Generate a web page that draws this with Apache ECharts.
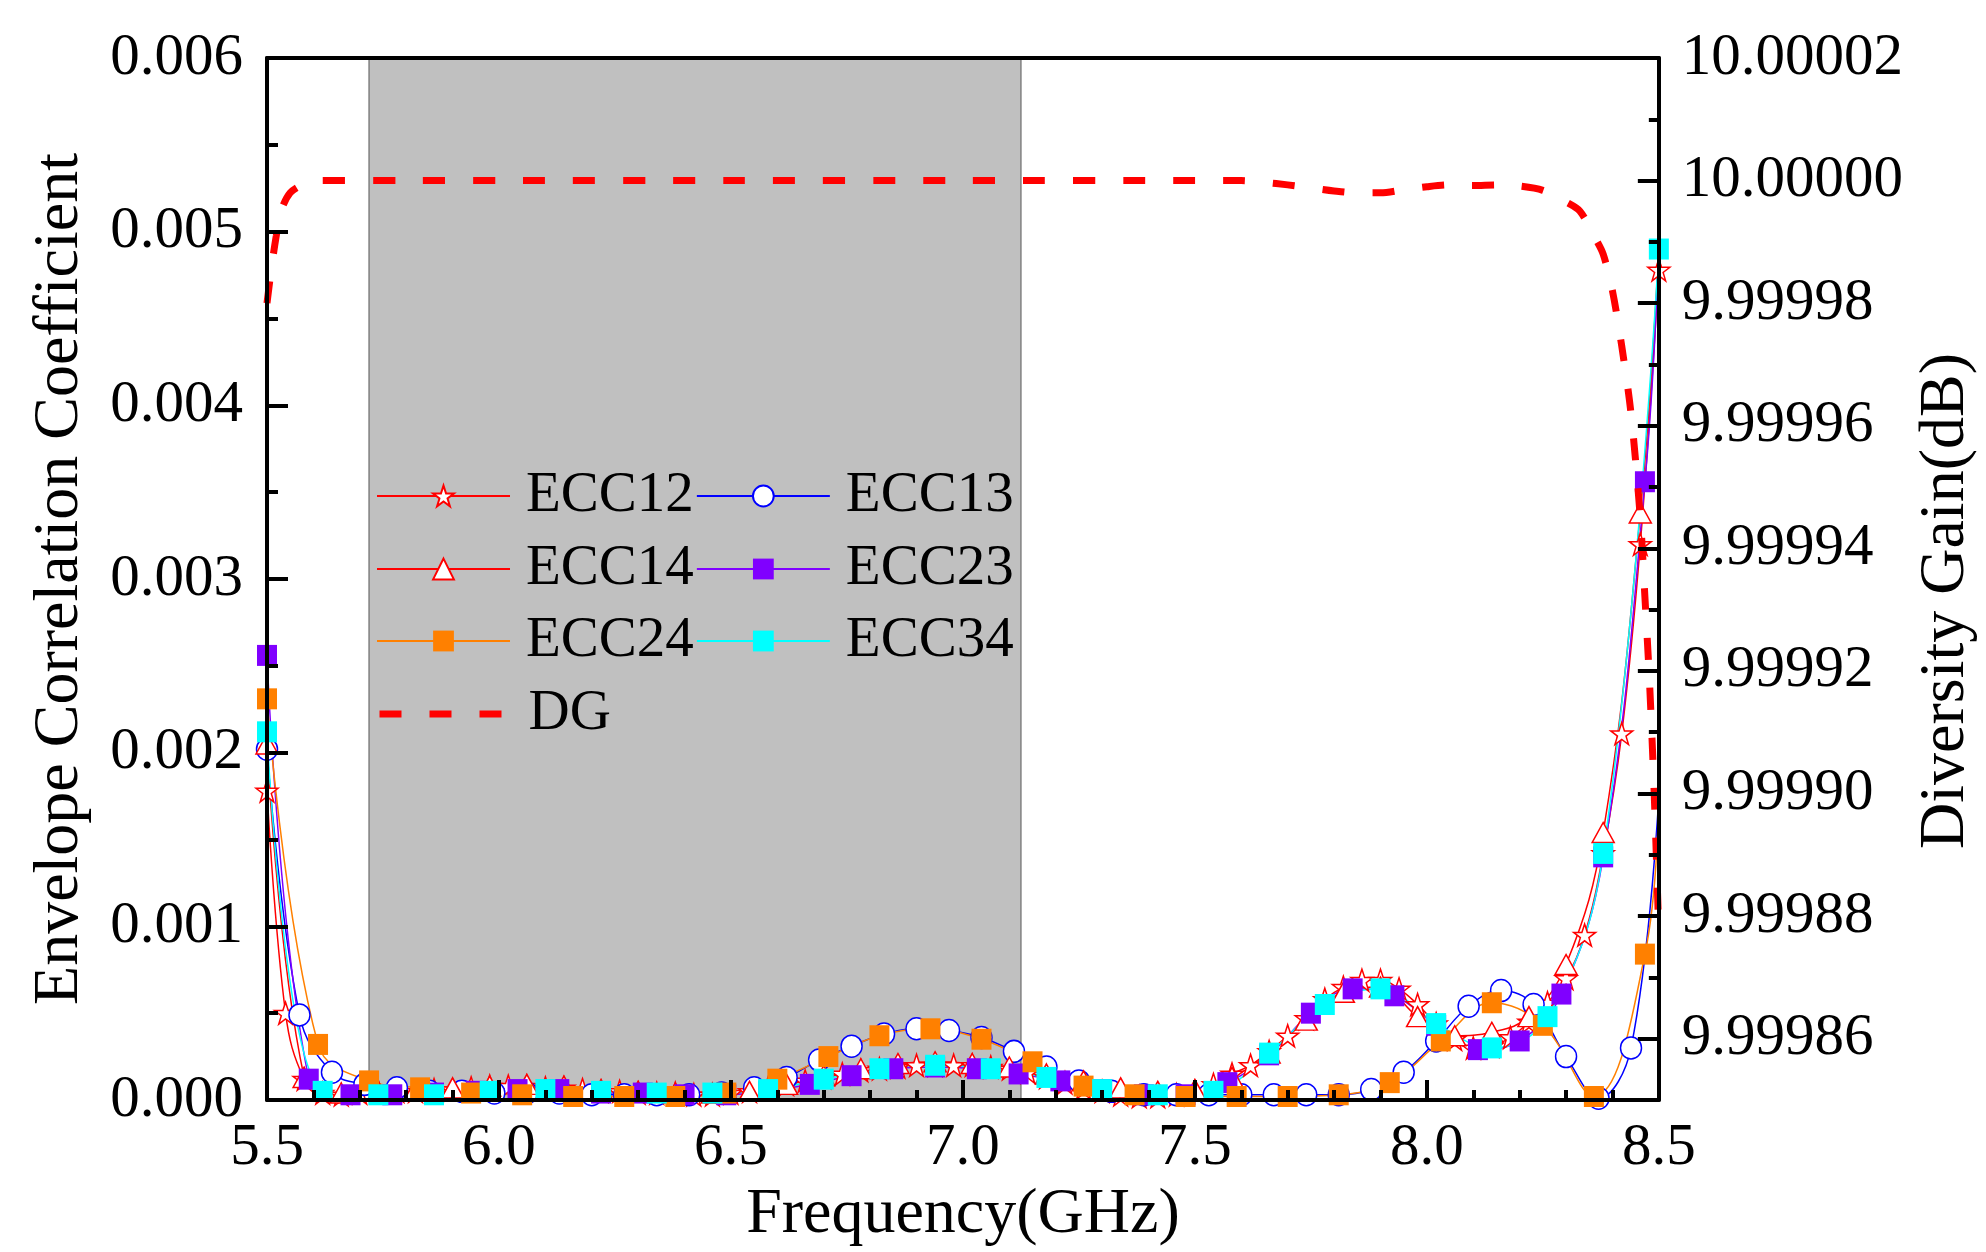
<!DOCTYPE html>
<html><head><meta charset="utf-8">
<script src="https://cdn.jsdelivr.net/npm/echarts@6/dist/echarts.min.js"></script>
<style>html,body{margin:0;padding:0;background:#fff}#c{width:1986px;height:1252px}</style>
</head><body><div id="c"></div>
<script>
const freq12 = [5.50,5.54,5.58,5.62,5.66,5.70,5.74,5.78,5.82,5.86,5.90,5.94,5.98,6.02,6.06,6.10,6.14,6.18,6.22,6.26,6.30,6.34,6.38,6.42,6.46,6.50,6.54,6.58,6.62,6.66,6.70,6.74,6.78,6.82,6.86,6.90,6.94,6.98,7.02,7.06,7.10,7.14,7.18,7.22,7.26,7.30,7.34,7.38,7.42,7.46,7.50,7.54,7.58,7.62,7.66,7.70,7.74,7.78,7.82,7.86,7.90,7.94,7.98,8.02,8.06,8.10,8.14,8.18,8.22,8.26,8.30,8.34,8.38,8.42,8.46,8.50];
const ecc12 = [0.00178,0.00050,0.00012,0.00004,0.00003,0.00004,0.00005,0.00005,0.00005,0.00006,0.00006,0.00007,0.00008,0.00008,0.00008,0.00007,0.00007,0.00006,0.00005,0.00005,0.00004,0.00004,0.00004,0.00003,0.00003,0.00004,0.00005,0.00007,0.00009,0.00011,0.00013,0.00015,0.00017,0.00018,0.00019,0.00020,0.00020,0.00020,0.00020,0.00019,0.00018,0.00016,0.00013,0.00010,0.00007,0.00005,0.00003,0.00002,0.00002,0.00003,0.00005,0.00009,0.00015,0.00020,0.00028,0.00037,0.00047,0.00058,0.00065,0.00069,0.00069,0.00064,0.00055,0.00044,0.00035,0.00030,0.00031,0.00036,0.00045,0.00056,0.00070,0.00095,0.00142,0.00211,0.00320,0.00478];

const freq13 = [5.50,5.57,5.64,5.71,5.78,5.85,5.92,5.99,6.06,6.13,6.20,6.27,6.34,6.41,6.48,6.55,6.62,6.69,6.76,6.83,6.90,6.97,7.04,7.11,7.18,7.25,7.32,7.39,7.46,7.53,7.60,7.67,7.74,7.81,7.88,7.95,8.02,8.09,8.16,8.23,8.30,8.37,8.44];
const ecc13 = [0.00202,0.00049,0.00016,0.00009,0.00007,0.00005,0.00005,0.00004,0.00004,0.00004,0.00003,0.00003,0.00003,0.00003,0.00004,0.00007,0.00013,0.00023,0.00031,0.00038,0.00041,0.00040,0.00036,0.00028,0.00019,0.00011,0.00005,0.00003,0.00003,0.00003,0.00003,0.00003,0.00003,0.00003,0.00006,0.00016,0.00034,0.00054,0.00063,0.00055,0.00025,0.00001,0.00030];
const end13 = [8.50, 0.00175];

const freq14 = [5.50,5.58,5.66,5.74,5.82,5.90,5.98,6.06,6.14,6.22,6.30,6.38,6.46,6.54,6.62,6.70,6.78,6.86,6.94,7.02,7.10,7.18,7.26,7.34,7.42,7.50,7.58,7.66,7.74,7.82,7.90,7.98,8.06,8.14,8.22,8.30,8.38,8.46];
const ecc14 = [0.00205,0.00013,0.00004,0.00005,0.00006,0.00007,0.00008,0.00009,0.00008,0.00006,0.00005,0.00004,0.00004,0.00005,0.00009,0.00014,0.00018,0.00021,0.00022,0.00021,0.00019,0.00015,0.00011,0.00007,0.00005,0.00006,0.00013,0.00027,0.00046,0.00062,0.00065,0.00048,0.00037,0.00039,0.00048,0.00078,0.00154,0.00338];
const end14 = [8.50, 0.00490];

const freq23 = [5.50,5.59,5.68,5.77,5.86,5.95,6.04,6.13,6.22,6.31,6.40,6.49,6.58,6.67,6.76,6.85,6.94,7.03,7.12,7.21,7.30,7.39,7.48,7.57,7.66,7.75,7.84,7.93,8.02,8.11,8.20,8.29,8.38,8.47];
const ecc23 = [0.00256,0.00012,0.00003,0.00003,0.00004,0.00005,0.00006,0.00006,0.00004,0.00004,0.00003,0.00003,0.00005,0.00009,0.00014,0.00018,0.00019,0.00018,0.00015,0.00011,0.00006,0.00003,0.00003,0.00010,0.00026,0.00050,0.00064,0.00060,0.00043,0.00029,0.00034,0.00061,0.00140,0.00356];
const end23 = [8.50, 0.00490];

const freq24 = [5.50,5.61,5.72,5.83,5.94,6.05,6.16,6.27,6.38,6.49,6.60,6.71,6.82,6.93,7.04,7.15,7.26,7.37,7.48,7.59,7.70,7.81,7.92,8.03,8.14,8.25,8.36,8.47];
const ecc24 = [0.00231,0.00032,0.00011,0.00007,0.00004,0.00003,0.00002,0.00002,0.00002,0.00004,0.00012,0.00025,0.00037,0.00041,0.00035,0.00022,0.00008,0.00003,0.00002,0.00002,0.00002,0.00003,0.00010,0.00034,0.00056,0.00043,0.00002,0.00084];
const end24 = [8.50, 0.00180];

const freq34 = [5.50,5.62,5.74,5.86,5.98,6.10,6.22,6.34,6.46,6.58,6.70,6.82,6.94,7.06,7.18,7.30,7.42,7.54,7.66,7.78,7.90,8.02,8.14,8.26,8.38,8.50];
const ecc34 = [0.00212,0.00005,0.00003,0.00003,0.00005,0.00006,0.00005,0.00004,0.00004,0.00006,0.00012,0.00018,0.00020,0.00018,0.00013,0.00006,0.00003,0.00005,0.00027,0.00055,0.00064,0.00044,0.00030,0.00048,0.00142,0.00490];

const freqDG = [5.50,5.51,5.52,5.53,5.55,5.58,5.60,5.80,6.00,6.50,7.00,7.50,7.60,7.65,7.70,7.75,7.80,7.85,7.90,7.95,8.00,8.05,8.10,8.15,8.20,8.25,8.30,8.33,8.36,8.38,8.40,8.42,8.44,8.46,8.47,8.48,8.49,8.50];
const dg = [9.99998,9.999986,9.999991,9.999995,9.999998,9.9999995,10.0,10.0,10.0,10.0,10.0,10.0,10.0,9.9999997,9.9999993,9.9999988,9.9999983,9.999998,9.999998,9.9999985,9.999999,9.9999993,9.9999992,9.9999993,9.9999991,9.9999984,9.9999965,9.999995,9.999991,9.999988,9.999982,9.999973,9.999962,9.999945,9.999932,9.999918,9.9999,9.999877];

const bandRange = [5.72, 7.125];
const rightMajor = [9.99986,9.99988,9.9999,9.99992,9.99994,9.99996,9.99998,10.0,10.00002];
const rightMinor = [9.99985,9.99987,9.99989,9.99991,9.99993,9.99995,9.99997,9.99999,10.00001];

const FONT = 'Liberation Serif';
const STAR = 'path://M50,0 L61.8,34.5 L97.6,34.5 L68.5,55.9 L79.4,90.5 L50,69.1 L20.6,90.5 L31.5,55.9 L2.4,34.5 L38.2,34.5 Z';
const DG_DASH = [22, 28];
const DG_WIDTH = 7;

function pts(xs, ys) { return xs.map((x, i) => [x, ys[i]]); }
function withEnd(arr, end) { return end ? arr.concat([{ value: end, symbol: 'none' }]) : arr; }

const lineW = 1.5;
function eccSeries(name, xs, ys, end, symbol, size, color, hollow) {
  return {
    type: 'line', name, xAxisIndex: 0, yAxisIndex: 0, z: 2,
    data: withEnd(pts(xs, ys), end),
    smooth: 0.4, symbol, symbolSize: size, showAllSymbol: true,
    lineStyle: { color, width: lineW },
    itemStyle: hollow ? { color: '#ffffff', borderColor: color, borderWidth: 1.5 } : { color, borderWidth: 0 },
    emphasis: { disabled: true },
    animation: false
  };
}

const axisLineStyle = { color: '#000', width: 4 };
const labelStyle = { fontFamily: FONT, fontSize: 59, color: '#000' };
const nameStyle = { fontFamily: FONT, fontSize: 64, color: '#000' };

const legendBase = {
  orient: 'horizontal', left: 376, itemWidth: 133, itemHeight: 26, itemGap: 2, padding: 0,
  selectedMode: false,
  textStyle: { fontFamily: FONT, fontSize: 57, color: '#000', lineHeight: 64, padding: [0, 0, 0, 11] }
};

const option = {
  backgroundColor: '#fff',
  animation: false,
  grid: { left: 267, right: 301, top: 58, bottom: 152, containLabel: false },
  legend: [
    Object.assign({}, legendBase, { top: 464, data: ['ECC12', 'ECC13'] }),
    Object.assign({}, legendBase, { top: 537, data: ['ECC14', 'ECC23'] }),
    Object.assign({}, legendBase, { top: 609, data: ['ECC24', 'ECC34'] }),
    Object.assign({}, legendBase, { top: 682, data: [{
      name: 'DG',
      itemStyle: { opacity: 0 },
      lineStyle: { color: '#FF0000', width: DG_WIDTH, type: DG_DASH }
    }] })
  ],
  xAxis: [
    {
      type: 'value', min: 5.5, max: 8.5, interval: 0.5, position: 'bottom', z: 10,
      name: 'Frequency(GHz)', nameLocation: 'middle', nameGap: 66, nameTextStyle: nameStyle,
      axisLine: { show: true, onZero: false, lineStyle: axisLineStyle },
      axisTick: { show: true, inside: true, length: 20, lineStyle: { color: '#000', width: 4 } },
      minorTick: { show: true, splitNumber: 5, length: 10, lineStyle: { color: '#000', width: 4 } },
      axisLabel: Object.assign({ margin: 19, formatter: v => v.toFixed(1) }, labelStyle),
      splitLine: { show: false }, minorSplitLine: { show: false }
    },
    {
      type: 'value', min: 5.5, max: 8.5, position: 'top', z: 10,
      axisLine: { show: true, onZero: false, lineStyle: axisLineStyle },
      axisTick: { show: false }, axisLabel: { show: false }, splitLine: { show: false }
    }
  ],
  yAxis: [
    {
      type: 'value', min: 0, max: 0.006, interval: 0.001, position: 'left', z: 10,
      name: 'Envelope Correlation Coefficient', nameLocation: 'middle', nameGap: 175, nameRotate: 90,
      nameTextStyle: nameStyle,
      axisLine: { show: true, onZero: false, lineStyle: axisLineStyle },
      axisTick: { show: true, inside: true, length: 21, lineStyle: { color: '#000', width: 4 } },
      minorTick: { show: true, splitNumber: 2, length: 11, lineStyle: { color: '#000', width: 4 } },
      axisLabel: Object.assign({ margin: 24, formatter: v => v.toFixed(3) }, labelStyle),
      splitLine: { show: false }, minorSplitLine: { show: false }
    },
    {
      type: 'value', min: 9.99985, max: 10.00002, position: 'right', z: 10,
      name: 'Diversity Gain(dB)', nameLocation: 'middle', nameGap: 220, nameRotate: 90,
      nameTextStyle: Object.assign({ padding: [0, 44, 0, 0] }, nameStyle),
      axisLine: { show: true, onZero: false, lineStyle: axisLineStyle },
      axisTick: { show: true, inside: true, length: 21, customValues: rightMajor, lineStyle: { color: '#000', width: 4 } },
      axisLabel: Object.assign({ margin: 23, customValues: rightMajor, formatter: v => v.toFixed(5) }, labelStyle),
      splitLine: { show: false }
    },
    {
      type: 'value', min: 9.99985, max: 10.00002, position: 'right', z: 10,
      axisLine: { show: false },
      axisTick: { show: true, inside: true, length: 10, customValues: rightMinor, lineStyle: { color: '#000', width: 4 } },
      axisLabel: { show: false }, splitLine: { show: false }
    }
  ],
  series: [
    {
      type: 'line', name: 'band', xAxisIndex: 0, yAxisIndex: 0, z: 1,
      data: [[5.5, 0]], symbol: 'none', lineStyle: { opacity: 0 }, silent: true,
      markArea: {
        silent: true,
        itemStyle: { color: '#C0C0C0', borderColor: '#808080', borderWidth: 1.5 },
        data: [[{ xAxis: bandRange[0] }, { xAxis: bandRange[1] }]]
      }
    },
    eccSeries('ECC12', freq12, ecc12, null, STAR, [22, 22], '#FF0000', true),
    eccSeries('ECC13', freq13, ecc13, end13, 'circle', [21, 22], '#0000FF', true),
    eccSeries('ECC14', freq14, ecc14, end14, 'triangle', [22, 20], '#FF0000', true),
    eccSeries('ECC23', freq23, ecc23, end23, 'rect', [20, 21], '#8000FF', false),
    eccSeries('ECC24', freq24, ecc24, end24, 'rect', [20, 21], '#FF8000', false),
    eccSeries('ECC34', freq34, ecc34, null, 'rect', [20, 21], '#00FFFF', false),
    {
      type: 'line', name: 'DG', xAxisIndex: 0, yAxisIndex: 1, z: 3,
      data: pts(freqDG, dg), smooth: 0.3, symbol: 'none', showSymbol: false,
      lineStyle: { color: '#FF0000', width: DG_WIDTH, type: DG_DASH },
      itemStyle: { color: '#FF0000' },
      emphasis: { disabled: true }, animation: false
    }
  ]
};

const chart = echarts.init(document.getElementById('c'), null, { renderer: 'canvas' });
chart.setOption(option);
</script></body></html>
